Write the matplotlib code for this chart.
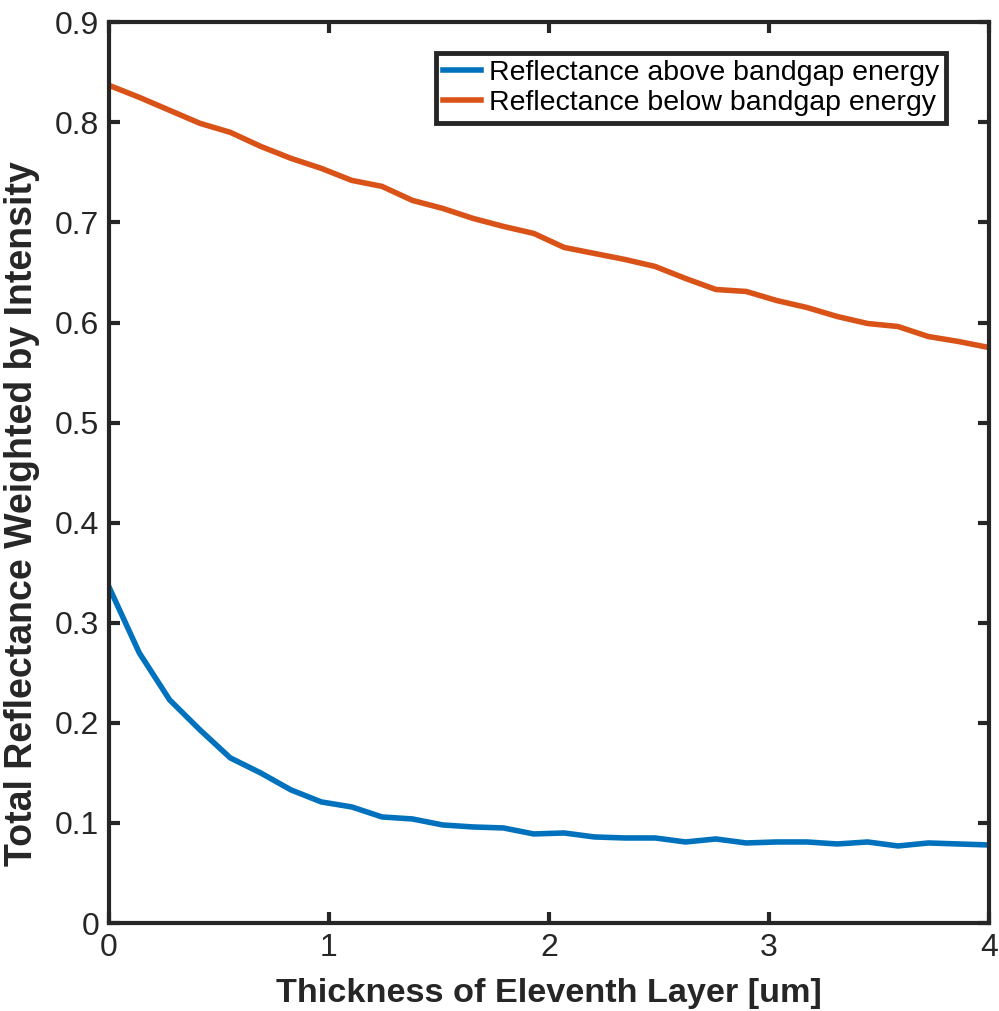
import numpy as np
import matplotlib.pyplot as plt

plt.rcParams['font.family'] = ['Liberation Sans', 'DejaVu Sans']

# thickness of the eleventh layer, 30 samples from 0 to 4 um
thickness = np.linspace(0, 4, 30)

refl_above = [0.336, 0.270, 0.223, 0.193, 0.165, 0.150, 0.133, 0.121, 0.116, 0.106,
              0.104, 0.098, 0.096, 0.095, 0.089, 0.090, 0.086, 0.085, 0.085, 0.081,
              0.084, 0.080, 0.081, 0.081, 0.079, 0.081, 0.077, 0.080, 0.079, 0.078]

refl_below = [0.837, 0.825, 0.812, 0.799, 0.790, 0.776, 0.764, 0.754, 0.742, 0.736,
              0.722, 0.714, 0.704, 0.696, 0.689, 0.675, 0.669, 0.663, 0.656, 0.644,
              0.633, 0.631, 0.622, 0.615, 0.606, 0.599, 0.596, 0.586, 0.581, 0.575]

labels = ['Reflectance above bandgap energy', 'Reflectance below bandgap energy']

dark = '#262626'

fig = plt.figure(figsize=(9.99, 10.11), dpi=100)
ax = fig.add_axes([0.109, 0.087, 0.881, 0.891])

ax.plot(thickness, refl_above, color='#0072BD', lw=4, label=labels[0])
ax.plot(thickness, refl_below, color='#D95319', lw=4, label=labels[1])

ax.set_xlim(0, 4)
ax.set_ylim(0, 0.9)
ax.set_xticks([0, 1, 2, 3, 4])
ax.set_yticks(np.arange(0, 0.91, 0.1))
ax.set_yticklabels(['0', '0.1', '0.2', '0.3', '0.4', '0.5', '0.6', '0.7', '0.8', '0.9'])

for s in ax.spines.values():
    s.set_linewidth(3)
    s.set_color(dark)
ax.tick_params(direction='in', length=8, width=3, color=dark, labelcolor=dark,
               labelsize=23, top=True, right=True, pad=7)

ax.set_xlabel('Thickness of Eleventh Layer [um]', fontsize=24.7, fontweight='bold',
              color=dark)
ax.xaxis.set_label_coords(0.5, -0.061)
ax.set_ylabel('Total Reflectance Weighted by Intensity', fontsize=27, fontweight='bold',
              color=dark)
ax.yaxis.set_label_coords(-0.078, 0.455)

leg = ax.legend(loc='upper right', bbox_to_anchor=(0.951, 0.966), fontsize=20.5,
                handlelength=1.35, handletextpad=0.25, borderpad=0.25, labelspacing=0.15,
                fancybox=False, framealpha=1, borderaxespad=0)
leg.get_frame().set_edgecolor(dark)
leg.get_frame().set_linewidth(3.5)
for h in leg.get_lines():
    h.set_linewidth(4)

fig.savefig('out.png', dpi=100)
